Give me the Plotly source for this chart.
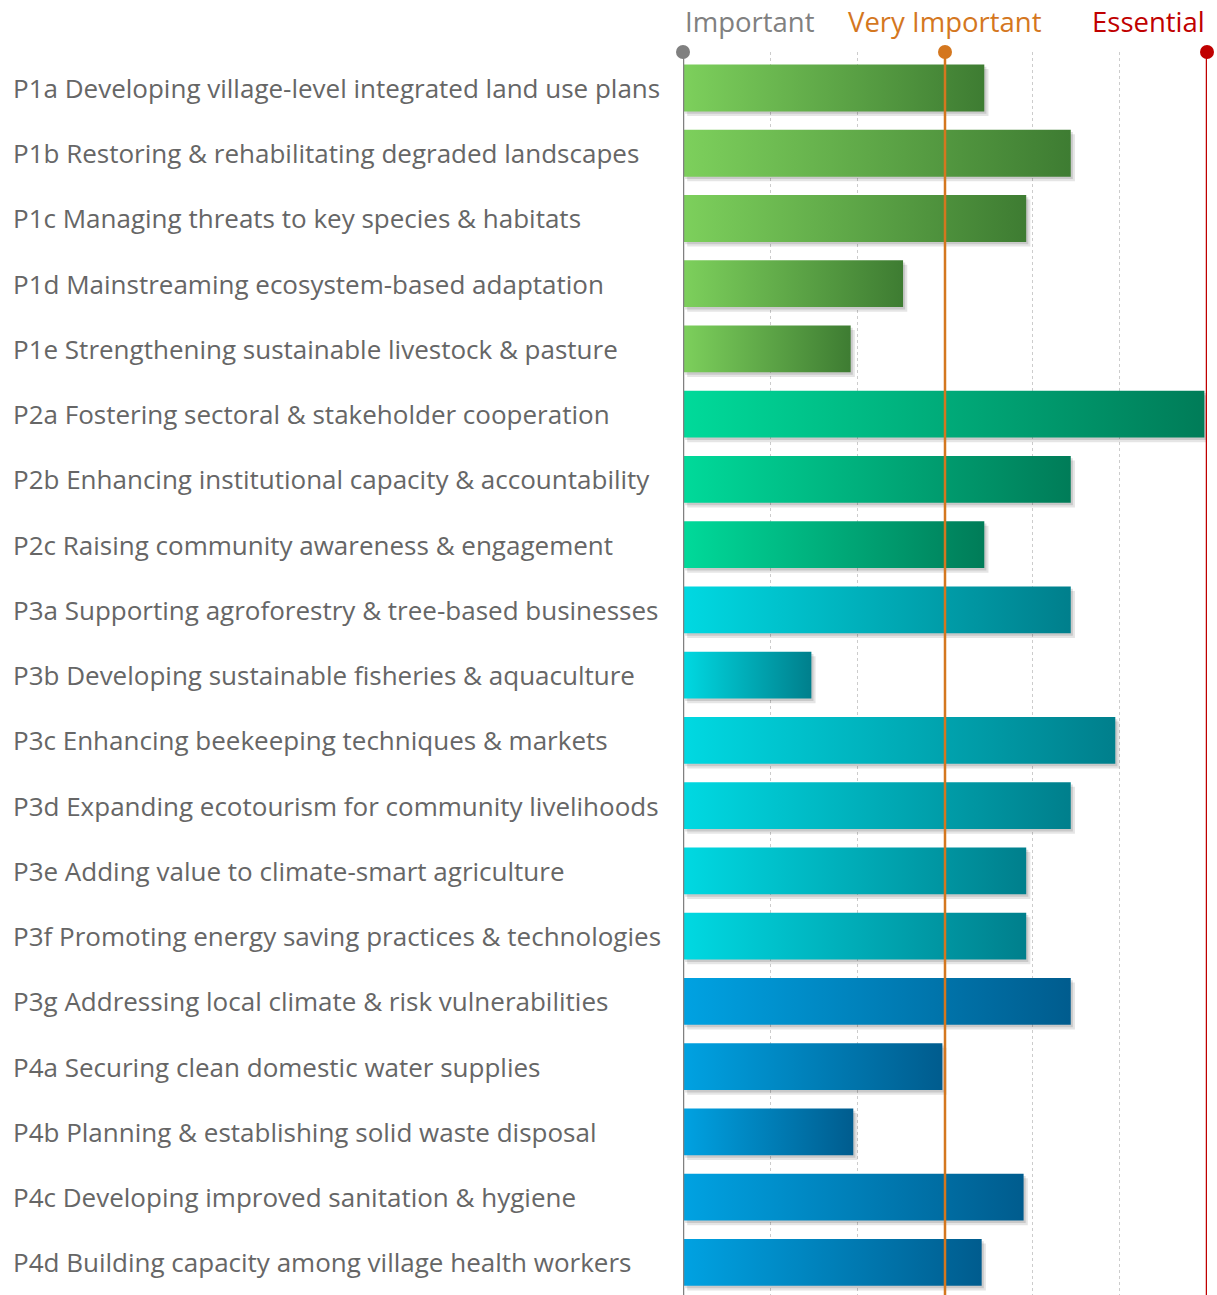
import plotly.graph_objects as go

categories = [
    "P1a Developing village-level integrated land use plans",
    "P1b Restoring & rehabilitating degraded landscapes",
    "P1c Managing threats to key species & habitats",
    "P1d Mainstreaming ecosystem-based adaptation",
    "P1e Strengthening sustainable livestock & pasture",
    "P2a Fostering sectoral & stakeholder cooperation",
    "P2b Enhancing institutional capacity & accountability",
    "P2c Raising community awareness & engagement",
    "P3a Supporting agroforestry & tree-based businesses",
    "P3b Developing sustainable fisheries & aquaculture",
    "P3c Enhancing beekeeping techniques & markets",
    "P3d Expanding ecotourism for community livelihoods",
    "P3e Adding value to climate-smart agriculture",
    "P3f Promoting energy saving practices & technologies",
    "P3g Addressing local climate & risk vulnerabilities",
    "P4a Securing clean domestic water supplies",
    "P4b Planning & establishing solid waste disposal",
    "P4c Developing improved sanitation & hygiene",
    "P4d Building capacity among village health workers",
]
values = [2.15, 2.48, 2.31, 1.84, 1.64,
          2.99, 2.48, 2.15,
          2.48, 1.49, 2.65, 2.48, 2.31, 2.31, 2.48,
          1.99, 1.65, 2.30, 2.14]
groups = ["P1"] * 5 + ["P2"] * 3 + ["P3"] * 6 + ["P4"] * 5
group_colors = {
    "P1": ("#7dd05c", "#3e7c32"),
    "P2": ("#00da9a", "#007c58"),
    "P3": ("#00d9e2", "#007f8c"),
    "P4": ("#00a2e2", "#005c8e"),
}
scale_levels = [1, 2, 3]
scale_labels = ["Important", "Very Important", "Essential"]
scale_colors = ["#808080", "#d4771f", "#c00000"]

W, H = 1217, 1295
ML, MR, MT, MB = 683, 10, 52, 0
YTOP, YBOT = -0.55, 18.5
HALF = 0.36

fig = go.Figure()

# shadows
for i, v in enumerate(values):
    for dx, dy, a in [(0.016, 0.07, 0.10), (0.008, 0.035, 0.12)]:
        fig.add_trace(go.Scatter(
            x=[1 + dx, v + dx, v + dx, 1 + dx, 1 + dx],
            y=[i - HALF + dy, i - HALF + dy, i + HALF + dy, i + HALF + dy, i - HALF + dy],
            mode="lines", fill="toself", line=dict(width=0),
            fillcolor=f"rgba(0,0,0,{a})", hoverinfo="skip", showlegend=False))

# bars
for i, (v, g) in enumerate(zip(values, groups)):
    c0, c1 = group_colors[g]
    fig.add_trace(go.Scatter(
        x=[1, v, v, 1, 1],
        y=[i - HALF, i - HALF, i + HALF, i + HALF, i - HALF],
        mode="lines", fill="toself", line=dict(width=0),
        fillgradient=dict(type="horizontal", colorscale=[[0, c0], [1, c1]]),
        name=categories[i], showlegend=False))

# reference lines
for lv, col in zip(scale_levels, scale_colors):
    fig.add_trace(go.Scatter(x=[lv, lv], y=[YTOP, YBOT + 1], mode="lines",
                             line=dict(color=col, width=2.5), hoverinfo="skip",
                             showlegend=False, cliponaxis=False))
    fig.add_trace(go.Scatter(x=[lv], y=[YTOP], mode="markers",
                             marker=dict(color=col, size=14), hoverinfo="skip",
                             showlegend=False, cliponaxis=False))

anchors = ["left", "center", "right"]
for lv, lab, col, anc in zip(scale_levels, scale_labels, scale_colors, anchors):
    fig.add_annotation(x=lv, y=1, xref="x", yref="paper", text=lab, showarrow=False,
                       xanchor=anc, yanchor="bottom", yshift=10,
                       font=dict(family="Open Sans", size=27.5, color=col))

for i, cat in enumerate(categories):
    fig.add_annotation(x=-(ML - 11) / (W - ML - MR), y=i, xref="paper", yref="y",
                       text=cat, showarrow=False, xanchor="left", yanchor="middle",
                       font=dict(family="Open Sans", size=26, color="#666666"))

fig.update_layout(
    width=W, height=H,
    margin=dict(l=ML, r=MR, t=MT, b=MB),
    paper_bgcolor="white", plot_bgcolor="white",
    xaxis=dict(range=[1, 3], dtick=1 / 3, tick0=1, showgrid=True, gridcolor="#cccccc",
               griddash="dot", gridwidth=1, showticklabels=False, zeroline=False,
               showline=False, ticks=""),
    yaxis=dict(range=[YBOT, YTOP], showgrid=False, showticklabels=False, zeroline=False,
               showline=False, ticks=""),
)

fig.write_html("out.html")
